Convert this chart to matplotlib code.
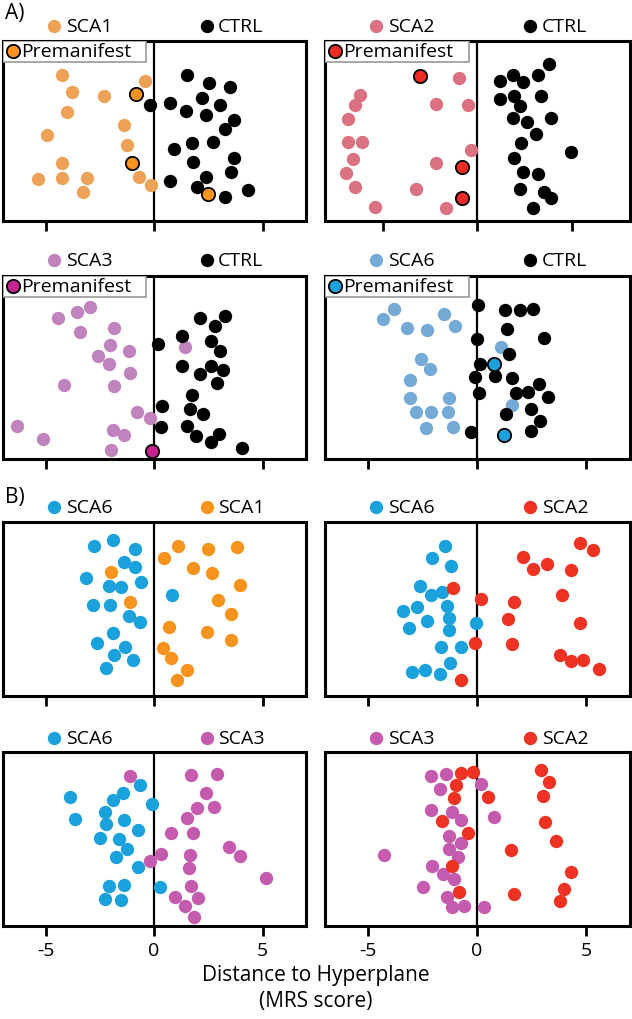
import numpy as np
import matplotlib
matplotlib.use('Agg')
import matplotlib.pyplot as plt
from matplotlib.patches import Rectangle

plt.rcParams['font.family'] = ['Open Sans', 'DejaVu Sans']
plt.rcParams['axes.unicode_minus'] = False

# ---------------- A) patients vs controls ----------------
# SCA1 vs CTRL
sca1_x = [-4.26, -0.43, -3.80, -2.30, -4.03, -1.40, -4.95, -1.25, -4.26, -5.34,
          -4.23, -3.07, -0.71, -0.14, -3.29]
sca1_y = [80.9, 77.8, 71.3, 69.1, 60.2, 53.1, 47.8, 42.0, 32.0, 23.5,
          23.9, 24.1, 24.6, 19.8, 16.1]
sca1_pre_x = [-0.82, -1.00, 2.48]
sca1_pre_y = [70.4, 32.0, 15.2]
ctrl1_x = [1.53, 2.53, 3.50, -0.20, 0.73, 2.21, 3.04, 1.45, 2.38, 3.66, 3.27,
           0.91, 1.76, 2.72, 3.66, 1.79, 3.53, 0.71, 2.41, 1.99, 4.31, 3.26]
ctrl1_y = [80.9, 76.5, 74.1, 64.3, 65.4, 68.0, 64.3, 60.9, 58.7, 56.1, 50.9,
           39.8, 43.1, 43.9, 35.2, 32.8, 26.9, 22.2, 24.6, 19.1, 17.0, 13.5]

# SCA2 vs CTRL
sca2_x = [-6.23, -6.48, -6.85, -6.88, -6.14, -6.57, -6.94, -6.50, -5.44, -0.99,
          -2.18, -0.48, -0.33, -2.18, -3.27, -1.69]
sca2_y = [70.0, 64.1, 56.7, 43.6, 43.8, 34.6, 26.7, 19.0, 7.9, 79.2,
          64.8, 64.1, 39.4, 31.9, 18.0, 7.4]
sca2_pre_x = [-3.05, -0.81, -0.81]
sca2_pre_y = [80.3, 29.8, 12.5]
ctrl2_x = [3.80, 1.87, 3.20, 1.18, 2.41, 1.18, 1.92, 3.38, 2.24, 1.87, 2.64,
           3.87, 3.12, 2.31, 4.98, 1.95, 2.41, 3.20, 2.24, 3.50, 3.87, 2.92]
ctrl2_y = [86.9, 81.0, 80.7, 77.7, 77.3, 67.8, 69.6, 69.1, 63.9, 57.1, 54.7,
           57.1, 48.4, 43.3, 38.3, 34.8, 27.3, 26.3, 17.5, 16.0, 12.5, 7.4]

# SCA3 vs CTRL
sca3_x = [-4.41, -3.54, -2.96, -3.43, -1.84, -2.01, -1.16, -2.59, -2.07, -1.09,
          -4.13, -1.84, -0.78, -0.21, -6.34, -1.90, -1.38, -5.10, -1.99, 1.44]
sca3_y = [76.7, 80.4, 83.1, 69.1, 71.5, 62.4, 58.7, 56.4, 52.0, 46.9,
          40.4, 39.6, 25.5, 22.5, 17.8, 15.8, 13.3, 10.9, 5.1, 61.3]
sca3_pre_x = [-0.09]
sca3_pre_y = [4.5]
ctrl3_x = [2.13, 3.25, 2.82, 1.30, 2.63, 3.05, 0.18, 1.29, 2.63, 3.17, 2.13,
           2.89, 1.75, 0.37, 1.64, 2.24, 0.32, 1.52, 1.93, 3.00, 2.60, 4.07]
ctrl3_y = [76.7, 78.2, 72.7, 66.9, 64.5, 59.1, 62.7, 50.9, 50.5, 48.5, 46.4,
           41.6, 34.9, 29.1, 27.3, 24.5, 17.6, 18.2, 12.7, 13.6, 9.1, 5.8]

# SCA6 vs CTRL
sca6_x = [-3.82, -4.29, -1.51, -3.20, -2.31, -1.02, 1.09, -2.55, -2.17, -3.09,
          -3.08, -1.29, 1.60, -2.82, -2.12, -1.35, -2.32, -1.11]
sca6_y = [81.8, 76.3, 79.0, 71.7, 70.4, 72.3, 61.3, 54.4, 48.9, 43.1,
          33.4, 33.4, 29.7, 25.7, 25.7, 25.5, 17.0, 17.3]
sca6_pre_x = [0.78, 1.25]
sca6_pre_y = [52.0, 13.3]
ctrl6_x = [0.06, 1.29, 1.95, 2.55, 1.37, 0.00, 3.06, 1.45, 0.14, 0.83, -0.09,
           1.60, 2.83, 0.09, 1.80, 2.34, 3.26, 2.45, 1.34, 2.88, 2.45, -0.29]
ctrl6_y = [84.1, 81.2, 81.2, 81.8, 70.8, 65.3, 66.2, 57.1, 52.0, 45.3, 44.7,
           44.0, 41.1, 35.8, 35.8, 36.5, 33.9, 27.4, 24.6, 20.6, 15.5, 14.6]

# ---------------- B) patient group vs patient group ----------------
b1_sca6_x = [-2.76, -1.90, -0.87, -1.38, -0.87, -3.12, -2.10, -1.53, -0.61, -2.82,
             -2.02, -1.18, -0.67, -1.91, -2.63, -1.33, -1.84, -0.98, -2.21, 0.84]
b1_sca6_y = [85.9, 89.5, 84.4, 76.7, 74.2, 67.6, 63.4, 62.8, 65.3, 52.3,
             52.3, 45.8, 42.4, 36.3, 30.3, 28.4, 23.7, 20.8, 16.2, 58.2]
b1_sca1_x = [1.12, 2.50, 3.80, 0.47, 1.81, 2.68, 3.95, 2.96, 3.54, 0.70,
             2.45, 3.54, 0.43, 0.77, 1.50, 1.07, -1.99, -1.13]
b1_sca1_y = [85.9, 84.4, 85.7, 79.2, 73.3, 70.6, 63.7, 55.3, 47.1, 39.9,
             36.6, 32.1, 27.5, 21.8, 15.1, 9.5, 71.0, 53.8]

b2_sca6_x = [-1.47, -2.06, -1.21, -2.63, -1.63, -2.10, -1.37, -2.75, -3.39, -1.29,
             -2.29, -3.13, -1.29, -0.06, -1.64, -0.74, -1.26, -2.98, -2.37, -1.72]
b2_sca6_y = [86.3, 79.0, 74.7, 63.2, 60.0, 58.1, 52.0, 51.4, 49.1, 44.8,
             42.9, 39.0, 37.7, 41.9, 28.2, 28.2, 19.0, 13.7, 14.9, 13.0]
b2_sca2_x = [4.70, 5.31, 2.09, 2.58, 3.21, 4.29, -1.11, 0.20, 1.69, 3.90,
             1.43, 4.70, -0.11, 1.60, 3.81, 4.32, 4.85, 5.58, -0.75]
b2_sca2_y = [87.6, 83.8, 80.0, 73.0, 75.8, 72.4, 61.9, 55.6, 53.9, 58.1,
             44.4, 41.9, 30.5, 30.1, 23.4, 20.0, 20.6, 15.6, 9.1]

b3_sca6_x = [-0.66, -3.86, -3.63, -1.43, -1.91, -2.25, -2.22, -1.37, -0.75, -2.51,
             -1.63, -1.25, -1.74, -0.75, -0.09, 0.26, -2.09, -1.40, -2.25, -1.51]
b3_sca6_y = [81.3, 74.0, 61.5, 76.3, 72.5, 65.4, 58.7, 61.0, 55.2, 50.4,
             50.0, 44.2, 39.4, 33.7, 70.2, 22.1, 23.1, 23.5, 15.4, 14.8]
b3_sca3_x = [-1.09, 1.68, 2.91, 2.37, 1.98, 2.75, 1.52, 0.80, 1.77, 3.46, 3.98,
             0.32, -0.20, 1.65, 1.63, 5.14, 1.68, 0.98, 2.03, 1.42, 1.83]
b3_sca3_y = [86.5, 87.1, 87.5, 76.3, 67.9, 68.7, 62.1, 53.5, 53.3, 45.6, 40.4,
             41.3, 37.5, 41.0, 33.1, 27.5, 23.1, 16.3, 16.0, 11.5, 5.2]

b4_sca3_x = [-2.13, -1.41, 0.17, -1.72, -2.13, -1.13, -0.75, 0.78, -1.29, -0.75, -1.29,
             -0.87, -4.24, -2.08, -1.55, -1.06, -2.48, -1.36, -1.13, -0.60, 0.32]
b4_sca3_y = [86.1, 87.4, 81.6, 78.9, 66.7, 65.8, 60.9, 62.5, 51.6, 47.8, 44.5,
             39.7, 40.6, 34.2, 30.0, 26.7, 22.2, 16.8, 10.6, 11.6, 10.6]
b4_sca2_x = [-0.75, -0.18, -0.98, -1.06, 0.52, -1.62, -0.40, 2.92, 3.31, 3.00,
             3.12, 3.61, 1.55, -1.16, 4.30, -0.83, 1.67, 4.00, 3.80]
b4_sca2_y = [88.0, 88.6, 81.2, 73.5, 74.5, 60.5, 53.6, 89.6, 82.8, 74.9,
             59.6, 48.7, 43.5, 34.2, 30.9, 19.7, 18.4, 20.9, 14.1]

# colours
light = {'SCA1': '#EDA257', 'SCA2': '#DA7282', 'SCA3': '#C183BD', 'SCA6': '#75AAD6'}
bright = {'SCA1': '#F7941D', 'SCA2': '#EE2A24', 'SCA3': '#C4238F', 'SCA6': '#1DA1DC'}
bcol = {'SCA1': '#F7941D', 'SCA2': '#EE3224', 'SCA3': '#C45BAE', 'SCA6': '#1BA1DB'}

fig = plt.figure(figsize=(6.32, 10.2), dpi=100)

W, H = 632.0, 1020.0
cols = [(3.3, 306.0), (325.3, 630.0)]
rows = [(41.7, 222.0), (276.7, 460.0), (522.7, 697.3), (753.3, 926.7)]

MS = 9.6


def make_ax(r, c, xlim=(-6.95, 7.0), bottom_labels=False):
    x0, x1 = cols[c]
    t, b = rows[r]
    ax = fig.add_axes([x0 / W, 1 - b / H, (x1 - x0) / W, (b - t) / H])
    ax.set_xlim(xlim)
    ax.set_ylim(0, 100)
    ax.set_yticks([])
    ax.set_xticks([-5, 0, 5])
    ax.tick_params(axis='x', direction='out', length=7, width=2, labelsize=14,
                   pad=4, labelbottom=bottom_labels)
    for s in ax.spines.values():
        s.set_linewidth(2.2)
    ax.axvline(0, color='black', lw=1.6, zorder=1)
    return ax


def head(ax, left, lcol, right, rcol):
    for xd, xt, lab, col in [(0.168, 0.207, left, lcol), (0.672, 0.71, right, rcol)]:
        ax.plot([xd], [1.083], 'o', color=col, ms=MS, mec='none',
                transform=ax.transAxes, clip_on=False)
        ax.text(xt, 1.083, lab, fontsize=14, va='center', ha='left',
                transform=ax.transAxes)


def pre_box(ax, col):
    ax.add_patch(Rectangle((0, 0.883), 0.47, 0.117, transform=ax.transAxes,
                           facecolor='white', edgecolor='#9a9a9a', lw=1.2, zorder=5))
    ax.plot([0.032], [0.944], 'o', color=col, ms=MS, mec='black', mew=1.3,
            transform=ax.transAxes, zorder=6)
    ax.text(0.058, 0.944, 'Premanifest', fontsize=14, va='center', ha='left',
            transform=ax.transAxes, zorder=6)


def panel_a(r, c, name, sx, sy, px, py, cx, cy, xlim=(-6.95, 7.0)):
    ax = make_ax(r, c, xlim)
    ax.plot(sx, sy, 'o', color=light[name], ms=MS, mec='none', zorder=3)
    ax.plot(cx, cy, 'o', color='black', ms=MS, mec='none', zorder=3)
    ax.plot(px, py, 'o', color=bright[name], ms=MS, mec='black', mew=1.3, zorder=4)
    head(ax, name, light[name], 'CTRL', 'black')
    pre_box(ax, bright[name])
    return ax


def panel_b(r, c, ln, lx, ly, rn, rx, ry):
    ax = make_ax(r, c, bottom_labels=(r == 3))
    ax.plot(lx, ly, 'o', color=bcol[ln], ms=MS, mec='none', zorder=3)
    ax.plot(rx, ry, 'o', color=bcol[rn], ms=MS, mec='none', zorder=3)
    head(ax, ln, bcol[ln], rn, bcol[rn])
    return ax


panel_a(0, 0, 'SCA1', sca1_x, sca1_y, sca1_pre_x, sca1_pre_y, ctrl1_x, ctrl1_y)
panel_a(0, 1, 'SCA2', sca2_x, sca2_y, sca2_pre_x, sca2_pre_y, ctrl2_x, ctrl2_y,
        xlim=(-8.06, 8.08))
panel_a(1, 0, 'SCA3', sca3_x, sca3_y, sca3_pre_x, sca3_pre_y, ctrl3_x, ctrl3_y)
panel_a(1, 1, 'SCA6', sca6_x, sca6_y, sca6_pre_x, sca6_pre_y, ctrl6_x, ctrl6_y)

panel_b(2, 0, 'SCA6', b1_sca6_x, b1_sca6_y, 'SCA1', b1_sca1_x, b1_sca1_y)
panel_b(2, 1, 'SCA6', b2_sca6_x, b2_sca6_y, 'SCA2', b2_sca2_x, b2_sca2_y)
panel_b(3, 0, 'SCA6', b3_sca6_x, b3_sca6_y, 'SCA3', b3_sca3_x, b3_sca3_y)
panel_b(3, 1, 'SCA3', b4_sca3_x, b4_sca3_y, 'SCA2', b4_sca2_x, b4_sca2_y)

fig.text(5 / W, 1 - 13 / H, 'A)', fontsize=15, va='center', ha='left')
fig.text(5 / W, 1 - 497 / H, 'B)', fontsize=15, va='center', ha='left')
fig.text(0.5, 1 - 976 / H, 'Distance to Hyperplane', fontsize=15, ha='center', va='center')
fig.text(0.5, 1 - 1002 / H, '(MRS score)', fontsize=15, ha='center', va='center')

plt.savefig('out.png', dpi=100)
